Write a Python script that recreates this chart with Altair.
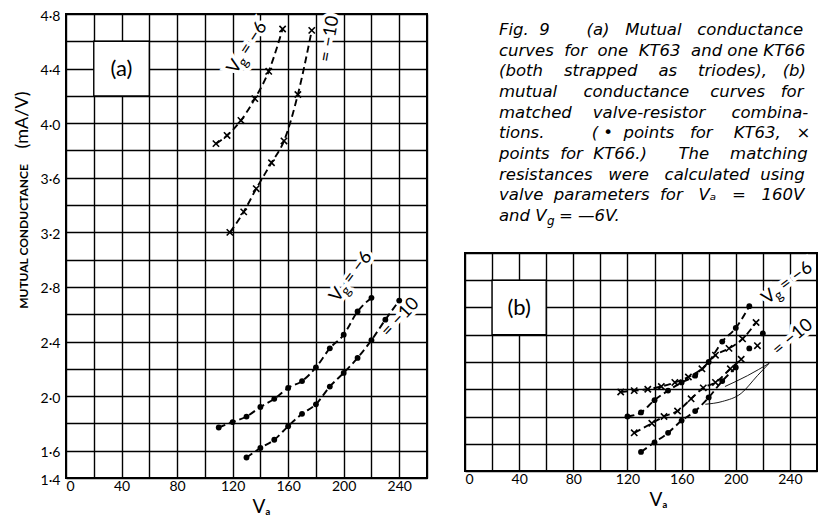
import altair as alt
import pandas as pd

# ---------------- Panel (a): one KT63 (dots) and one KT66 (crosses) ----------------
a_kt66_vg6_va = [108, 116, 126, 136, 146, 156]
a_kt66_vg6_gm = [3.85, 3.91, 4.02, 4.18, 4.38, 4.69]
a_kt66_vg10_va = [118, 128, 137, 148, 157, 167, 177]
a_kt66_vg10_gm = [3.20, 3.35, 3.52, 3.71, 3.87, 4.21, 4.68]
a_kt63_vg6_va = [110, 120, 130, 140, 150, 160, 170, 180, 190, 200, 210, 220]
a_kt63_vg6_gm = [1.77, 1.81, 1.85, 1.92, 1.98, 2.06, 2.11, 2.21, 2.35, 2.45, 2.62, 2.72]
a_kt63_vg10_va = [130, 140, 150, 160, 170, 180, 190, 200, 210, 220, 230, 240]
a_kt63_vg10_gm = [1.55, 1.62, 1.68, 1.78, 1.87, 1.94, 2.07, 2.17, 2.28, 2.41, 2.56, 2.70]

# ---------------- Panel (b): matched valve-resistor combinations ----------------
b_kt63_vg6_va = [120, 130, 140, 150, 160, 170, 180, 190, 200, 210]
b_kt63_vg6_gm = [1.80, 1.83, 1.92, 1.99, 2.05, 2.10, 2.20, 2.35, 2.45, 2.61]
b_kt66_vg6_va = [115, 125, 135, 145, 155, 165, 175, 185, 195, 205, 215]
b_kt66_vg6_gm = [1.98, 1.99, 2.00, 2.02, 2.05, 2.09, 2.15, 2.25, 2.30, 2.37, 2.49]
b_kt66_vg10_va = [125, 138, 147, 157, 167, 176, 185, 196, 204]
b_kt66_vg10_gm = [1.68, 1.75, 1.80, 1.84, 1.93, 2.01, 2.05, 2.15, 2.22]
b_kt63_vg10_va = [130, 140, 150, 160, 170, 180, 190, 200]
b_kt63_vg10_gm = [1.54, 1.61, 1.68, 1.77, 1.84, 1.94, 2.06, 2.16]
# isolated points, not joined by a curve
b_kt63_extra_va = [210, 220]
b_kt63_extra_gm = [2.30, 2.41]
b_kt66_extra_va = [216]
b_kt66_extra_gm = [2.32]
# hand-drawn bracket grouping the Vg = -10 curves
b_bracket_up_va = [192, 208.7, 224.6]
b_bracket_up_gm = [2.02, 2.10, 2.19]
b_bracket_lo_va = [177.5, 190, 204, 216, 224.6]
b_bracket_lo_gm = [1.89, 1.91, 1.97, 2.10, 2.19]

# ---------------- grid / tick values ----------------
x_grid = [0, 20, 40, 60, 80, 100, 120, 140, 160, 180, 200, 220, 240, 260]
x_labels = [0, 40, 80, 120, 160, 200, 240]
a_y_grid = [1.4, 1.6, 1.8, 2.0, 2.2, 2.4, 2.6, 2.8, 3.0, 3.2, 3.4, 3.6, 3.8,
            4.0, 4.2, 4.4, 4.6, 4.8]
a_y_labels = [1.4, 1.6, 2.0, 2.4, 2.8, 3.2, 3.6, 4.0, 4.4, 4.8]
b_y_grid = [1.4, 1.6, 1.8, 2.0, 2.2, 2.4, 2.6, 2.8, 3.0]

# ---------------- curve labels ----------------
a_vg_va = [119.4, 192.8]
a_vg_gm = [4.375, 2.705]
a_vg_ang = [303, 307]
a_vg_txt = ["= −6", "= −6"]
a_eq_va = [187, 229.5]
a_eq_gm = [4.45, 2.45]
a_eq_ang = [280, 313]
a_eq_txt = ["= −10", "= −10"]
b_vg_va = [221]
b_vg_gm = [2.65]
b_vg_ang = [323]
b_vg_txt = ["= −6"]
b_eq_va = [229]
b_eq_gm = [2.27]
b_eq_ang = [320]
b_eq_txt = ["= −10"]

# ---------------- caption (words and the number of spaces between them) ----------------
caption_words = [
    ["Fig.", "9", "(a)", "Mutual", "conductance"],
    ["curves", "for", "one", "KT63", "and", "one", "KT66"],
    ["(both", "strapped", "as", "triodes),", "(b)"],
    ["mutual", "conductance", "curves", "for"],
    ["matched", "valve-resistor", "combina-"],
    ["tions.", "(", "•", "points", "for", "KT63,", "×"],
    ["points", "for", "KT66.)", "The", "matching"],
    ["resistances", "were", "calculated", "using"],
    ["valve", "parameters", "for", "Vₐ", "=", "160V"],
]
caption_gaps = [
    [2, 7, 3, 3],
    [2, 2, 2, 2, 1, 1],
    [4, 4, 4, 3],
    [5, 4, 3],
    [4, 5],
    [9, 1, 2, 3, 4, 3],
    [2, 2, 6, 4],
    [3, 3, 2],
    [2, 2, 3, 3, 3],
]
caption_last = ["and V", "g", "= —6V."]

FONT = "Lato"
CAP_FONT = "DejaVu Sans"
XSHAPE = "M-1,-1L1,1M-1,1L1,-1"
NBSP = "\u00a0"


def series_df(va, gm):
    return pd.DataFrame({"va": va, "gm": gm})


def labels_df(va, gm, ang, txt):
    return pd.DataFrame({"va": va, "gm": gm, "ang": ang, "txt": txt})


def join_words(words, gaps):
    out = words[0]
    for w, g in zip(words[1:], gaps):
        out += NBSP * g + w
    return out


def panel(width, height, y_dom, x_axis_title_x, y_axis, dot_series, cross_series,
          dot_extra, cross_extra, vg_df, eq_df, box, tag, thin_lines, extra_layers=()):
    xenc = alt.X("va:Q", scale=alt.Scale(domain=[0, 260], nice=False, zero=False),
                 axis=alt.Axis(values=x_grid, grid=True,
                               labelExpr=f"indexof({x_labels}, datum.value) >= 0 ? datum.label : ''",
                               title="Vₐ", titleFont=FONT, titleFontSize=19,
                               titleFontWeight="normal", titleX=x_axis_title_x, titleY=28,
                               titleBaseline="middle", titleAlign="center",
                               labelPadding=1, labelFlush=True))
    yenc = alt.Y("gm:Q", scale=alt.Scale(domain=y_dom, nice=False, zero=False), axis=y_axis)

    layers = []
    # white box behind the panel tag
    bx = pd.DataFrame({"va": [box[0]], "va2": [box[1]], "gm": [box[2]], "gm2": [box[3]]})
    layers.append(alt.Chart(bx).mark_rect(fill="white", stroke="black", strokeWidth=1.4).encode(
        x=xenc, x2="va2:Q", y=yenc, y2="gm2:Q"))
    tg = pd.DataFrame({"va": [tag[0]], "gm": [tag[1]], "txt": [tag[2]]})
    layers.append(alt.Chart(tg).mark_text(font=FONT, fontSize=22, color="black").encode(
        x=xenc, y=yenc, text="txt:N"))

    # curve labels with white halo
    for halo in (True, False):
        extra = dict(stroke="white", strokeWidth=7) if halo else {}
        layers.append(alt.Chart(vg_df).mark_text(font=FONT, fontSize=18, align="left",
                                                 baseline="middle", color="black", **extra).encode(
            x=xenc, y=yenc, angle=alt.Angle("ang:Q", scale=None), text=alt.value("V")))
        layers.append(alt.Chart(vg_df).mark_text(font=FONT, fontSize=14, align="left",
                                                 baseline="middle", dx=11, dy=5,
                                                 color="black", **extra).encode(
            x=xenc, y=yenc, angle=alt.Angle("ang:Q", scale=None), text=alt.value("g")))
        layers.append(alt.Chart(vg_df).mark_text(font=FONT, fontSize=18, align="left",
                                                 baseline="middle", dx=22,
                                                 color="black", **extra).encode(
            x=xenc, y=yenc, angle=alt.Angle("ang:Q", scale=None), text="txt:N"))
        layers.append(alt.Chart(eq_df).mark_text(font=FONT, fontSize=18, align="left",
                                                 baseline="middle", color="black", **extra).encode(
            x=xenc, y=yenc, angle=alt.Angle("ang:Q", scale=None), text="txt:N"))

    for df in thin_lines:
        layers.append(alt.Chart(df).mark_line(color="black", strokeWidth=0.9,
                                              interpolate="monotone").encode(x=xenc, y=yenc))
    for df in dot_series + cross_series:
        layers.append(alt.Chart(df).mark_line(color="black", strokeWidth=1.9, strokeDash=[7, 4],
                                              interpolate="monotone").encode(x=xenc, y=yenc))
    for df in dot_series + dot_extra:
        layers.append(alt.Chart(df).mark_circle(color="black", size=34, opacity=1).encode(
            x=xenc, y=yenc))
    for df in cross_series + cross_extra:
        layers.append(alt.Chart(df).mark_point(shape=XSHAPE, size=40, filled=False, color="black",
                                               strokeWidth=1.6, opacity=1).encode(x=xenc, y=yenc))
    layers.extend(extra_layers)
    return alt.layer(*layers).properties(width=width, height=height)


a_yaxis = alt.Axis(values=a_y_grid, grid=True,
                   labelExpr=f"indexof({a_y_labels}, datum.value) >= 0 ? replace(format(datum.value, '.1f'), '.', '·') : ''",
                   labelPadding=6, labelOffset=2, title="MUTUAL  CONDUCTANCE", titleFont=FONT,
                   titleFontSize=12, titleFontWeight="bold", titleAngle=270, titleX=-43,
                   titleY=222, titleAlign="center", titleBaseline="middle")
b_yaxis = alt.Axis(values=b_y_grid, grid=True, labels=False, title="")

unit_df = pd.DataFrame({"txt": ["(mA/V)"]})
unit_label = alt.Chart(unit_df).mark_text(font=FONT, fontSize=18, angle=270, align="center",
                                           baseline="middle", color="black").encode(
    x=alt.value(-43), y=alt.value(106), text="txt:N")

panel_a = panel(
    361, 464, [1.4, 4.8], 195, a_yaxis,
    [series_df(a_kt63_vg6_va, a_kt63_vg6_gm), series_df(a_kt63_vg10_va, a_kt63_vg10_gm)],
    [series_df(a_kt66_vg6_va, a_kt66_vg6_gm), series_df(a_kt66_vg10_va, a_kt66_vg10_gm)],
    [], [],
    labels_df(a_vg_va, a_vg_gm, a_vg_ang, a_vg_txt),
    labels_df(a_eq_va, a_eq_gm, a_eq_ang, a_eq_txt),
    (20, 60, 4.2, 4.6), (40, 4.4, "(a)"), [], [unit_label])

panel_b = panel(
    352, 218, [1.4, 3.0], 193, b_yaxis,
    [series_df(b_kt63_vg6_va, b_kt63_vg6_gm), series_df(b_kt63_vg10_va, b_kt63_vg10_gm)],
    [series_df(b_kt66_vg6_va, b_kt66_vg6_gm), series_df(b_kt66_vg10_va, b_kt66_vg10_gm)],
    [series_df(b_kt63_extra_va, b_kt63_extra_gm)],
    [series_df(b_kt66_extra_va, b_kt66_extra_gm)],
    labels_df(b_vg_va, b_vg_gm, b_vg_ang, b_vg_txt),
    labels_df(b_eq_va, b_eq_gm, b_eq_ang, b_eq_txt),
    (20, 60, 2.4, 2.8), (40, 2.6, "(b)"),
    [series_df(b_bracket_up_va, b_bracket_up_gm), series_df(b_bracket_lo_va, b_bracket_lo_gm)])

# ---------------- caption ----------------
caption_lines = [join_words(w, g) for w, g in zip(caption_words, caption_gaps)]
cap_df = pd.DataFrame({"i": list(range(len(caption_lines))), "txt": caption_lines})
cap_y = alt.Y("i:Q", axis=None, scale=alt.Scale(domain=[0, 9], range=[16, 202]))
cap_style = dict(font=CAP_FONT, fontStyle="italic", fontSize=16.5, align="left",
                 baseline="middle", color="black")
last_df = pd.DataFrame({"i": [9], "a": [caption_last[0]], "b": [caption_last[1]],
                        "c": [caption_last[2]]})
caption = alt.layer(
    alt.Chart(cap_df).mark_text(**cap_style).encode(x=alt.value(34), y=cap_y, text="txt:N"),
    alt.Chart(last_df).mark_text(**cap_style).encode(x=alt.value(34), y=cap_y, text="a:N"),
    alt.Chart(last_df).mark_text(font=CAP_FONT, fontStyle="italic", fontSize=12, align="left",
                                 baseline="middle", color="black", dx=48, dy=5).encode(
        x=alt.value(34), y=cap_y, text="b:N"),
    alt.Chart(last_df).mark_text(**cap_style, dx=60).encode(x=alt.value(34), y=cap_y, text="c:N"),
).properties(width=352, height=228, view=alt.ViewBackground(strokeOpacity=0))

chart = alt.hconcat(
    panel_a,
    alt.vconcat(caption, panel_b, spacing=10),
    spacing=36,
).properties(padding={"left": 5, "top": 0, "right": 0, "bottom": 0}).configure_view(
    stroke="black", strokeWidth=2
).configure_axis(
    gridColor="black", gridOpacity=1, gridWidth=1.4, domain=False, ticks=False,
    labelFont=FONT, labelFontSize=14, labelColor="black", titleColor="black", zindex=0
)

chart.save("out.html", embed_options={"renderer": "svg", "actions": False})
